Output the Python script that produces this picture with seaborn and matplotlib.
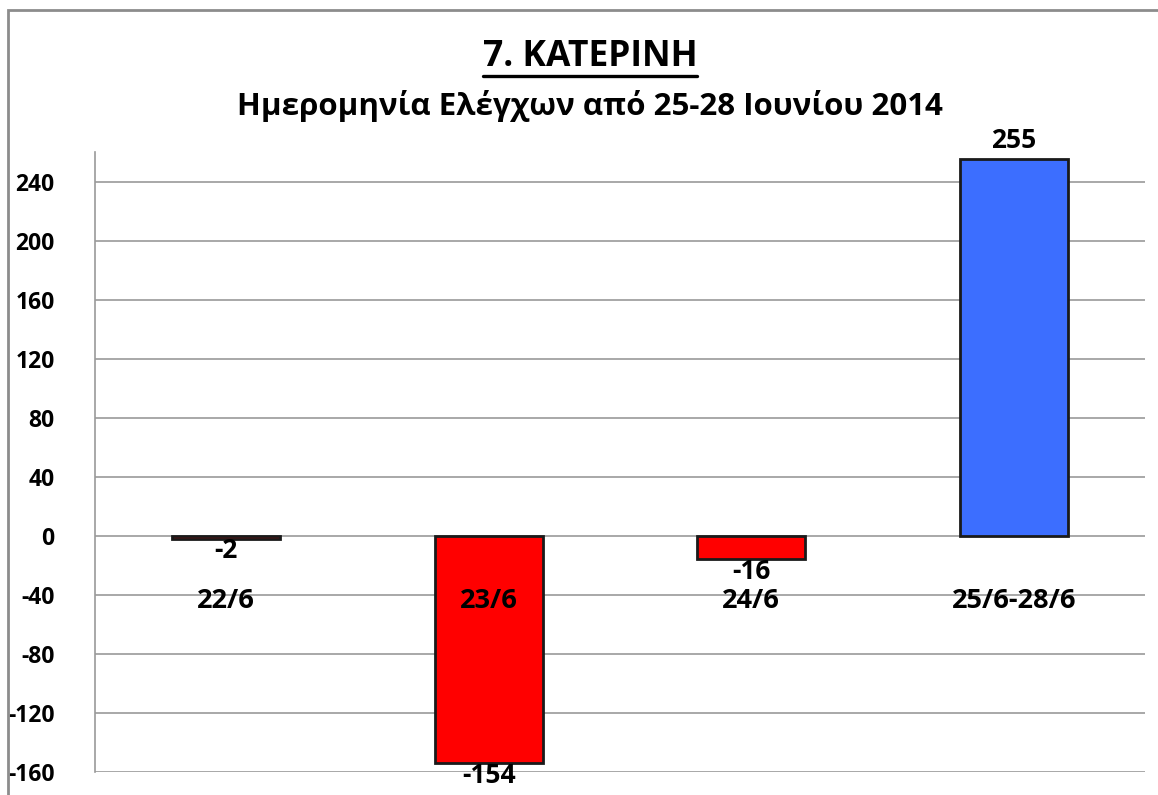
import matplotlib
matplotlib.use("Agg")
import matplotlib.pyplot as plt
import seaborn as sns
import pandas as pd
from matplotlib.patches import Rectangle

# ---- data ----
categories = ["22/6", "23/6", "24/6", "25/6-28/6"]
values = [-2, -154, -16, 255]
bar_colors = ["#FF0000", "#FF0000", "#FF0000", "#3C6EFF"]
y_ticks = [-160, -120, -80, -40, 0, 40, 80, 120, 160, 200, 240]
title = "7. ΚΑΤΕΡΙΝΗ"
subtitle = "Ημερομηνία Ελέγχων από 25-28 Ιουνίου 2014"

sns.set_theme(style="white")
plt.rcParams['font.family'] = ['Open Sans', 'DejaVu Sans']
plt.rcParams['font.weight'] = 'bold'

df = pd.DataFrame({"cat": categories, "val": values})

fig = plt.figure(figsize=(11.58, 7.95), dpi=100)
ax = fig.add_axes([95/1158, 23/795, (1145-95)/1158, (772-152)/795])

sns.barplot(data=df, x="cat", y="val", hue="cat", palette=bar_colors,
            legend=False, width=0.41, edgecolor="#1a1a1a", linewidth=2,
            saturation=1, ax=ax, zorder=3)

ax.set_ylim(-160, 260)
ax.set_xlim(-0.5, len(categories) - 0.5)
ax.set_yticks(y_ticks)
ax.set_yticklabels([str(t) for t in y_ticks], fontsize=16.5, fontweight='bold',
                   color='black')
ax.tick_params(axis='y', length=0, pad=29)
ax.set_xticks([])
ax.set_xlabel("")
ax.set_ylabel("")
ax.yaxis.grid(True, color="#9a9a9a", linewidth=1.2, zorder=0)
ax.set_axisbelow(True)
for s in ["top", "right", "bottom"]:
    ax.spines[s].set_visible(False)
ax.spines["left"].set_color("#9a9a9a")
ax.spines["left"].set_linewidth(1.2)

# category labels inside plot
for i, c in enumerate(categories):
    ax.text(i, -44, c, ha="center", va="center", fontsize=19.5,
            fontweight="bold", color="black", zorder=5)

# value labels
for i, v in enumerate(values):
    if v >= 0:
        ax.annotate(str(v), (i, v), xytext=(0, 4), textcoords="offset points",
                    ha="center", va="bottom", fontsize=19, fontweight="bold",
                    color="black", annotation_clip=False, zorder=5)
    else:
        ax.annotate(str(v), (i, v), xytext=(0, 1), textcoords="offset points",
                    ha="center", va="top", fontsize=19, fontweight="bold",
                    color="black", annotation_clip=False, zorder=5)

# titles
t = fig.text(590/1158, 1 - 57/795, title, ha="center", va="center",
             fontsize=25.5, fontweight="bold", color="black")
fig.canvas.draw()
bb = t.get_window_extent()
fig.add_artist(plt.Line2D([bb.x0 / 1158, bb.x1 / 1158],
                          [(bb.y0 - 1) / 795, (bb.y0 - 1) / 795],
                          transform=fig.transFigure, color="black", linewidth=2.4))
fig.text(590/1158, 1 - 106/795, subtitle, ha="center", va="center",
         fontsize=22.5, fontweight="bold", color="black")

# outer chart frame (cropped)
fig.add_artist(Rectangle((8/1158, -0.05), 1.2, 1 - 10/795 + 0.05,
                         transform=fig.transFigure, fill=False,
                         edgecolor="#8c8c8c", linewidth=2))

fig.savefig("out.png", dpi=100)
